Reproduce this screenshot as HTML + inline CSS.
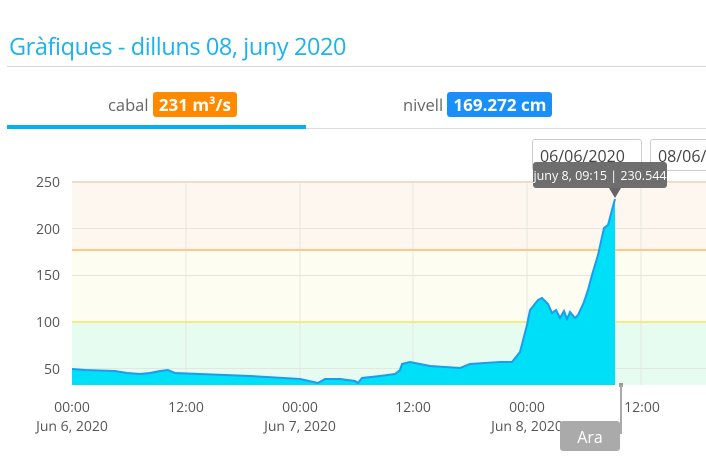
<!DOCTYPE html>
<html><head><meta charset="utf-8"><style>
body{margin:0;width:706px;height:463px;background:#fff;font-family:"Open Sans","Liberation Sans",sans-serif;overflow:hidden;position:relative}
.t{position:absolute;left:9px;top:30px;font-size:23.5px;color:#19b3ee;letter-spacing:-0.4px}
.hr{position:absolute;left:7px;top:66px;width:699px;height:1px;background:#d8d8d8}
.tab{position:absolute;top:92px;font-size:16.5px;color:#666}
.badge{display:inline-block;color:#fff;font-weight:bold;padding:0 6px;border-radius:3px;font-size:17px;line-height:25px}
.dt{position:absolute;top:139px;height:30px;border:1px solid #ccc;border-radius:3px;font-size:16px;color:#444;line-height:32px;padding:0 7px;background:#fff}
</style></head><body>
<div class="t">Gràfiques - dilluns 08, juny 2020</div>
<div class="hr"></div>
<div class="tab" style="left:108px">cabal <span class="badge" style="background:#ff8a00">231 m³/s</span></div>
<div class="tab" style="left:403px">nivell <span class="badge" style="background:#1a8ff7">169.272 cm</span></div>
<div style="position:absolute;left:7px;top:128px;width:699px;height:1px;background:#ddd"></div>
<div style="position:absolute;left:7px;top:125px;width:299px;height:4px;background:#00b3f0"></div>
<div class="dt" style="left:532px;width:94px">06/06/2020</div>
<div class="dt" style="left:650px;width:70px">08/06/</div>
<svg style="position:absolute;left:0;top:0" width="706" height="463">
<rect x="72" y="182" width="634" height="68" fill="#fdf7f0"/>
<rect x="72" y="250" width="634" height="72" fill="#fefdf1"/>
<rect x="72" y="322" width="634" height="63" fill="#e6fcf1"/>
<g stroke="#e6e6e0" stroke-width="1">
<line x1="72" y1="228.5" x2="706" y2="228.5"/><line x1="72" y1="275.5" x2="706" y2="275.5"/><line x1="72" y1="368.5" x2="706" y2="368.5"/>
<line x1="186" y1="182" x2="186" y2="385"/><line x1="300" y1="182" x2="300" y2="385"/><line x1="413" y1="182" x2="413" y2="385"/><line x1="527" y1="182" x2="527" y2="385"/><line x1="641" y1="182" x2="641" y2="385"/>
</g>
<line x1="72" y1="182" x2="706" y2="182" stroke="#f1dccb" stroke-width="2"/>
<line x1="72" y1="250" x2="706" y2="250" stroke="#fdc88a" stroke-width="2"/>
<line x1="72" y1="322" x2="706" y2="322" stroke="#f5e98a" stroke-width="2"/>
<path d="M72,369 L85,370 L115,371 L127,373 L140,374 L150,373 L160,371 L168,370 L175,373 L200,374 L250,376 L300,379 L318,383 L325,379 L340,379 L355,381 L358,383 L362,378 L380,376 L395,374 L400,370 L402,364 L410,362 L430,366 L460,368 L470,364 L500,362 L512,362 L520,352 L527,325 L530,310 L538,300 L542,298 L548,304 L552,313 L556,310 L560,318 L564,311 L567,319 L570,312 L575,318 L578,315 L584,302 L588,290 L592,275 L598,255 L604,228 L608,225 L612,210 L615,199 L615,385 L72,385 Z" fill="#00dff8" stroke="none"/>
<path d="M72,369 L85,370 L115,371 L127,373 L140,374 L150,373 L160,371 L168,370 L175,373 L200,374 L250,376 L300,379 L318,383 L325,379 L340,379 L355,381 L358,383 L362,378 L380,376 L395,374 L400,370 L402,364 L410,362 L430,366 L460,368 L470,364 L500,362 L512,362 L520,352 L527,325 L530,310 L538,300 L542,298 L548,304 L552,313 L556,310 L560,318 L564,311 L567,319 L570,312 L575,318 L578,315 L584,302 L588,290 L592,275 L598,255 L604,228 L608,225 L612,210 L615,199" fill="none" stroke="#1a9cf0" stroke-width="2"/>
<g font-size="14" fill="#555" text-anchor="end">
<text x="60" y="187">250</text><text x="60" y="234">200</text><text x="60" y="280">150</text><text x="60" y="327">100</text><text x="60" y="374">50</text>
</g>
<g font-size="14" fill="#555" text-anchor="middle">
<text x="72" y="412">00:00</text><text x="72" y="431">Jun 6, 2020</text>
<text x="186" y="412">12:00</text>
<text x="300" y="412">00:00</text><text x="300" y="431">Jun 7, 2020</text>
<text x="413" y="412">12:00</text>
<text x="527" y="412">00:00</text><text x="527" y="431">Jun 8, 2020</text>
<text x="642" y="412">12:00</text>
</g>
<rect x="533" y="162" width="134" height="26" rx="3" fill="#666" opacity="0.95"/>
<path d="M609,188 L615,198 L621,188 Z" fill="#666"/>
<text x="600" y="180" font-size="12.5" fill="#fff" text-anchor="middle">juny 8, 09:15 | 230.544</text>
<rect x="619" y="383" width="4" height="4" fill="#999"/>
<line x1="621" y1="385" x2="621" y2="434" stroke="#aaa" stroke-width="2"/>
<rect x="560" y="421" width="60" height="30" rx="3" fill="#aaa"/>
<text x="590" y="443" font-size="16" fill="#fff" text-anchor="middle">Ara</text>
</svg>
</body></html>
